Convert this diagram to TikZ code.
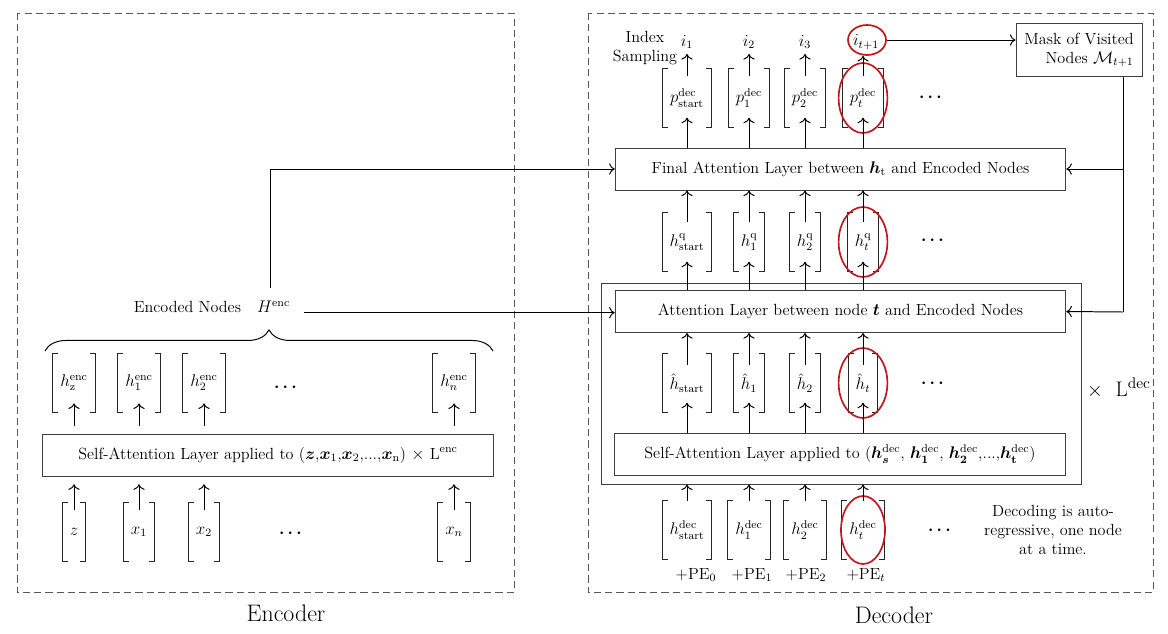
\documentclass[tikz,border=0pt]{standalone}
\usepackage{amsmath}
\usepackage{bm}
\usetikzlibrary{calc,arrows.meta,shapes.geometric,decorations.pathreplacing}
\definecolor{ringred}{RGB}{192,24,30}

\begin{document}
\begin{tikzpicture}[
 x=0.025cm, y=-0.025cm,
 line width=0.7pt,
 >={To[length=4pt,width=8pt]},
 align=center,
 font=\fontsize{11.5}{13.5}\selectfont,
 layer/.style={draw=black!75,rectangle,minimum width=11.26cm,minimum height=1.05cm},
 vect/.style={minimum height=1.45cm,inner xsep=5pt,
   append after command={\pgfextra{
     \draw[black!85] ([xshift=4pt]\tikzlastnode.north west) -| (\tikzlastnode.south west) -- ++(4pt,0);
     \draw[black!85] ([xshift=-4pt]\tikzlastnode.north east) -| (\tikzlastnode.south east) -- ++(-4pt,0);}}},
 ring/.style={draw=ringred,line width=1.2pt,ellipse,minimum width=1.22cm,minimum height=1.75cm},
 frame/.style={draw=black!65,line width=0.6pt,dash pattern=on 5pt off 3pt},
 more/.style={font=\fontsize{12}{14}\selectfont\boldmath},
 title/.style={font=\fontsize{17}{20}\selectfont}
]
\useasboundingbox (0,0) rectangle (1168,633);
\draw [frame] (17,13) rectangle (514,592);
\draw [frame] (588,13) rectangle (1153,592);
\node (enc-label) [title] at (286,613) {Encoder};
\node (dec-label) [title] at (894,615) {Decoder};

\node (z) [vect] at (74,532) {$z$};
\node (x1) [vect] at (139,532) {$x_1$};
\node (x2) [vect] at (204,532) {$x_2$};
\node (xn) [vect] at (454,532) {$x_n$};
\node (x-dots) [more] at (292,533) {$\cdots$};
\node (enc-sa) [layer] at (268,455) {Self-Attention Layer applied to ($\bm{z}$,$\bm{x}_1$,$\bm{x}_2$,...,$\bm{x}_{\mathrm{n}}$) $\times$ L$^{\mathrm{enc}}$};
\node (hz) [vect] at (74,383) {$h^{\mathrm{enc}}_{\mathrm{z}}$};
\node (h1) [vect] at (139,383) {$h^{\mathrm{enc}}_1$};
\node (h2) [vect] at (204,383) {$h^{\mathrm{enc}}_2$};
\node (hn) [vect] at (454,383) {$h^{\mathrm{enc}}_n$};
\node (h-dots) [more] at (287,387) {$\cdots$};
\draw [->,shorten <=-5pt,shorten >=5.5pt] (z.north) -- (z.north |- enc-sa.south);
\draw [->,shorten <=-5pt,shorten >=5.5pt] (x1.north) -- (x1.north |- enc-sa.south);
\draw [->,shorten <=-5pt,shorten >=5.5pt] (x2.north) -- (x2.north |- enc-sa.south);
\draw [->,shorten <=-5pt,shorten >=5.5pt] (xn.north) -- (xn.north |- enc-sa.south);
\draw [->,shorten <=5pt,shorten >=-6.5pt] (enc-sa.north -| hz) -- (hz.south);
\draw [->,shorten <=5pt,shorten >=-6.5pt] (enc-sa.north -| h1) -- (h1.south);
\draw [->,shorten <=5pt,shorten >=-6.5pt] (enc-sa.north -| h2) -- (h2.south);
\draw [->,shorten <=5pt,shorten >=-6.5pt] (enc-sa.north -| hn) -- (hn.south);
\coordinate (brace-left) at (45,351);
\coordinate (brace-right) at (493,351);
\draw [decorate,decoration={brace,amplitude=15pt}] (brace-left) -- (brace-right);
\node (enc-nodes) at (212,307) {Encoded Nodes\quad$H^{\mathrm{enc}}$};
\coordinate (enc-out) at (270,288);

\node (stack) [draw=black!75,rectangle,minimum width=11.975cm,minimum height=5cm] at (841.5,384) {};
\node (final) [layer] at (840.5,169) {Final Attention Layer between $\bm{h}_{\mathrm{t}}$ and Encoded Nodes};
\node (att) [layer] at (840.5,311.5) {Attention Layer between node $\bm{t}$ and Encoded Nodes};
\node (dec-sa) [layer] at (840,454) {Self-Attention Layer applied to ($\bm{h_s}^{\mathrm{dec}}$, $\bm{h_1}^{\mathrm{dec}}$, $\bm{h_2}^{\mathrm{dec}}$,...,$\bm{h_{\mathrm{t}}}^{\mathrm{dec}}$)};
\node (times-l) [font=\fontsize{15}{17}\selectfont] at (1119,388) {$\times$\ \ L$^{\mathrm{dec}}$};

\node (hd-start) [vect] at (687,530) {$h^{\mathrm{dec}}_{\mathrm{start}}$};
\node (hd-1) [vect] at (749,530) {$h^{\mathrm{dec}}_1$};
\node (hd-2) [vect] at (805,530) {$h^{\mathrm{dec}}_2$};
\node (hd-t) [vect] at (863,530) {$h^{\mathrm{dec}}_t$};
\node (hd-dots) [more] at (941,530) {$\cdots$};
\node (pe-0) at (696,575) {+PE$_0$};
\node (pe-1) at (752,575) {+PE$_1$};
\node (pe-2) at (806,575) {+PE$_2$};
\node (pe-t) at (866,575) {+PE$_t$};
\node (autoreg) at (1053,530) {Decoding is auto-\\regressive, one node\\at a time.};

\node (hh-start) [vect] at (687,383) {$\hat{h}_{\mathrm{start}}$};
\node (hh-1) [vect] at (749,383) {$\hat{h}_1$};
\node (hh-2) [vect] at (805,383) {$\hat{h}_2$};
\node (hh-t) [vect] at (863,383) {$\hat{h}_t$};
\node (hh-dots) [more] at (934,383) {$\cdots$};

\node (hq-start) [vect] at (687,242) {$h^{\mathrm{q}}_{\mathrm{start}}$};
\node (hq-1) [vect] at (749,242) {$h^{\mathrm{q}}_1$};
\node (hq-2) [vect] at (805,242) {$h^{\mathrm{q}}_2$};
\node (hq-t) [vect] at (863,242) {$h^{\mathrm{q}}_t$};
\node (hq-dots) [more] at (934,240) {$\cdots$};

\node (p-start) [vect] at (687,98) {$p^{\mathrm{dec}}_{\mathrm{start}}$};
\node (p-1) [vect] at (749,98) {$p^{\mathrm{dec}}_1$};
\node (p-2) [vect] at (805,98) {$p^{\mathrm{dec}}_2$};
\node (p-t) [vect] at (863,98) {$p^{\mathrm{dec}}_t$};
\node (p-dots) [more] at (932,97) {$\cdots$};

\node (i-1) at (687,42) {$i_1$};
\node (i-2) at (749,42) {$i_2$};
\node (i-3) at (805,42) {$i_3$};
\node (i-t1) at (866,42) {$i_{t+1}$};
\node (index) at (645,48) {Index\\Sampling};
\node (mask) [draw=black!75,rectangle,align=right,minimum width=3.15cm,minimum height=1.33cm] at (1079,50) {Mask of Visited\\Nodes $\mathcal{M}_{t+1}$};

\node (i-ring) [ring,minimum width=0.95cm,minimum height=0.75cm] at (867,40) {};
\node (p-ring) [ring] at (p-t) {};
\node (hq-ring) [ring] at (hq-t) {};
\node (hh-ring) [ring] at (hh-t) {};
\node (hd-ring) [ring,minimum width=1.1cm,minimum height=1.7cm] at (hd-t) {};

\draw [->] (hd-start.north) -- (hd-start.north |- stack.south);
\draw [->] (hd-1.north) -- (hd-1.north |- stack.south);
\draw [->] (hd-2.north) -- (hd-2.north |- stack.south);
\draw [->] (hd-t.north) -- (hd-t.north |- stack.south);
\draw [->,shorten >=-7pt] (dec-sa.north -| hh-start) -- (hh-start.south);
\draw [->,shorten >=-7pt] (dec-sa.north -| hh-1) -- (hh-1.south);
\draw [->,shorten >=-7pt] (dec-sa.north -| hh-2) -- (hh-2.south);
\draw [->,shorten >=-7pt] (dec-sa.north -| hh-t) -- (hh-t.south);
\draw [->,shorten <=-8pt] (hh-start.north) -- (hh-start.north |- att.south);
\draw [->,shorten <=-8pt] (hh-1.north) -- (hh-1.north |- att.south);
\draw [->,shorten <=-8pt] (hh-2.north) -- (hh-2.north |- att.south);
\draw [->,shorten <=-8pt] (hh-t.north) -- (hh-t.north |- att.south);
\draw [->,shorten >=-7pt] (att.north -| hq-start) -- (hq-start.south);
\draw [->,shorten >=-7pt] (att.north -| hq-1) -- (hq-1.south);
\draw [->,shorten >=-7pt] (att.north -| hq-2) -- (hq-2.south);
\draw [->,shorten >=-7pt] (att.north -| hq-t) -- (hq-t.south);
\draw [->,shorten <=-7pt] (hq-start.north) -- (hq-start.north |- final.south);
\draw [->,shorten <=-7pt] (hq-1.north) -- (hq-1.north |- final.south);
\draw [->,shorten <=-7pt] (hq-2.north) -- (hq-2.north |- final.south);
\draw [->,shorten <=-7pt] (hq-t.north) -- (hq-t.north |- final.south);
\draw [->,shorten >=-7pt] (final.north -| p-start) -- (p-start.south);
\draw [->,shorten >=-7pt] (final.north -| p-1) -- (p-1.south);
\draw [->,shorten >=-7pt] (final.north -| p-2) -- (p-2.south);
\draw [->,shorten >=-7pt] (final.north -| p-t) -- (p-t.south);
\draw [->,shorten <=-5.5pt] (p-start.north) -- (i-1.south);
\draw [->,shorten <=-5.5pt] (p-1.north) -- (i-2.south);
\draw [->,shorten <=-5.5pt] (p-2.north) -- (i-3.south);
\draw [->,shorten <=-5.5pt] (p-t.north) -- (p-t.north |- i-ring.south);

\draw [->] (i-ring.east) -- (i-ring.east -| mask.west);
\coordinate (tap-final) at (1123,169);
\coordinate (tap-att) at (1123,312);
\draw (mask.south -| tap-att) -- (tap-att);
\draw [->] (tap-final) -- (final.east);
\draw [->] (tap-att) -- (att.east);
\draw [->] (enc-out) |- (final.west);
\draw [->,shorten <=6pt] (enc-nodes.base east) -- (enc-nodes.base east -| att.west);
\end{tikzpicture}
\end{document}
